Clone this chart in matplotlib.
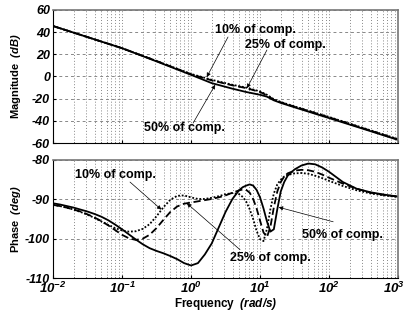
import numpy as np
import matplotlib
matplotlib.use("Agg")
import matplotlib.pyplot as plt
import matplotlib.transforms as mtransforms
from matplotlib.ticker import FixedLocator, FuncFormatter, LogLocator, NullFormatter

plt.rcParams['font.family'] = 'Liberation Sans'
plt.rcParams['font.weight'] = 'bold'
plt.rcParams['mathtext.fontset'] = 'custom'
plt.rcParams['mathtext.bfit'] = 'Liberation Sans:italic:bold'
plt.rcParams['mathtext.it'] = 'Liberation Sans:italic:bold'
plt.rcParams['mathtext.rm'] = 'Liberation Sans:bold'

# -------------------------------
# DATA
# -------------------------------

# magnitude, log10(frequency) grid
MAG_LOGW = [-2.0, -1.5, -1.0, -0.5, 0.0, 0.3, 0.6, 0.8, 1.0, 1.1, 1.2, 1.3, 1.5, 2.0, 2.5, 3.0]
MAG_10 = [45.5, 35.5, 25.5, 14.0, 2.3, -3.0, -7.5, -10.0, -13.5, -16.5, -20.5, -23.0, -27.0, -36.5, -46.5, -56.5]
MAG_25 = [45.5, 35.5, 25.5, 14.0, 2.0, -3.5, -8.0, -10.5, -14.0, -17.0, -21.0, -23.3, -27.2, -36.8, -46.8, -56.8]
MAG_50 = [45.5, 35.5, 25.5, 13.6, 1.5, -6.0, -11.0, -14.0, -16.5, -18.2, -21.5, -23.8, -27.8, -37.5, -47.3, -57.2]

# phase, log10(frequency) grid
PH_LOGW = [-2.0, -1.9, -1.8, -1.7, -1.6, -1.5, -1.4, -1.3, -1.2, -1.1, -1.0, -0.9, -0.8, -0.7,
           -0.6, -0.5, -0.4, -0.3, -0.2, -0.1, 0.0, 0.1, 0.2, 0.3, 0.4, 0.5, 0.6, 0.7,
           0.75, 0.8, 0.85, 0.9, 0.95, 1.0, 1.05, 1.1, 1.15, 1.2, 1.25, 1.3, 1.35, 1.4,
           1.5, 1.6, 1.7, 1.8, 1.9, 2.0, 2.2, 2.4, 2.6, 2.8, 3.0]
PH_50 = [-91.0, -91.3, -91.7, -92.1, -92.6, -93.1, -93.7, -94.4, -95.3, -96.4, -97.6, -98.9, -100.2, -101.4,
         -102.4, -103.1, -103.7, -104.4, -105.2, -106.2, -106.8, -106.2, -104.0, -101.2, -97.2, -93.2, -89.9, -87.6,
         -86.9, -86.5, -86.2, -86.5, -87.6, -89.5, -92.3, -95.6, -98.2, -97.6, -92.5, -88.0, -85.6, -84.0,
         -82.4, -81.4, -80.9, -81.1, -81.9, -83.0, -85.6, -87.3, -88.2, -88.8, -89.3]
PH_25 = [-91.4, -91.7, -92.1, -92.6, -93.1, -93.8, -94.6, -95.5, -96.6, -97.8, -99.0, -99.9, -100.3, -100.0,
         -99.0, -97.3, -95.2, -93.2, -91.8, -91.1, -90.8, -90.5, -90.2, -89.9, -89.5, -89.0, -88.3, -87.7,
         -87.5, -87.6, -88.3, -89.9, -92.3, -95.4, -98.4, -99.6, -97.0, -92.0, -88.0, -85.6, -84.2, -83.4,
         -82.7, -82.5, -82.6, -83.0, -83.7, -84.5, -86.0, -87.3, -88.3, -88.9, -89.3]
PH_10 = [-91.4, -91.7, -92.1, -92.6, -93.2, -93.9, -94.7, -95.6, -96.5, -97.3, -97.9, -98.2, -98.1, -97.5,
         -96.3, -94.3, -92.0, -90.1, -89.1, -89.0, -89.5, -89.9, -89.9, -89.6, -89.2, -88.7, -88.4, -88.7,
         -89.4, -90.6, -92.5, -95.0, -98.0, -100.1, -100.6, -97.5, -92.5, -88.5, -86.2, -85.0, -84.2, -83.8,
         -83.4, -83.3, -83.5, -84.0, -84.6, -85.3, -86.6, -87.7, -88.5, -89.0, -89.4]

MAG_TICKS = [-60, -40, -20, 0, 20, 40, 60]
PH_TICKS = [-110, -100, -90, -80]
FREQ_TICKS = [1e-2, 1e-1, 1e0, 1e1, 1e2, 1e3]
LABEL = "{}% of comp."

w_mag = 10.0 ** np.array(MAG_LOGW)
w_ph = 10.0 ** np.array(PH_LOGW)

# -------------------------------
# FIGURE
# -------------------------------

fig = plt.figure(figsize=(4.06, 3.2), dpi=100)
ax1 = fig.add_axes([0.1305, 0.553, 0.850, 0.416])
ax2 = fig.add_axes([0.1305, 0.131, 0.850, 0.369])

ax1.semilogx(w_mag, MAG_10, color='k', lw=1.3, ls=(0, (1, 1)))
ax1.semilogx(w_mag, MAG_25, color='k', lw=1.3, ls=(0, (4, 2)))
ax1.semilogx(w_mag, MAG_50, color='k', lw=1.3, ls='-')

ax2.semilogx(w_ph, PH_10, color='k', lw=1.3, ls=(0, (1, 1)))
ax2.semilogx(w_ph, PH_25, color='k', lw=1.3, ls=(0, (4, 2)))
ax2.semilogx(w_ph, PH_50, color='k', lw=1.3, ls='-')


def exp_fmt(v, pos):
    e = int(round(np.log10(v)))
    return r'$\mathbfit{10^{%d}}$' % e


for ax in (ax1, ax2):
    ax.set_xlim(1e-2, 1e3)
    ax.xaxis.set_major_locator(FixedLocator(FREQ_TICKS))
    ax.xaxis.set_minor_locator(LogLocator(base=10, subs=np.arange(2, 10), numticks=10))
    ax.xaxis.set_minor_formatter(NullFormatter())
    ax.grid(True, which='major', axis='x', color='#888888', ls=(0, (1, 2)), lw=0.7)
    ax.grid(True, which='minor', axis='x', color='#888888', ls=(0, (1, 2)), lw=0.7)
    ax.grid(True, which='major', axis='y', color='#888888', ls=(0, (3, 3)), lw=0.7)
    ax.tick_params(which='both', direction='in', length=2, pad=2)
    ax.tick_params(which='minor', length=1)
    for s in ('top', 'right'):
        ax.spines[s].set_color('#777777')
        ax.spines[s].set_linewidth(1.2)

ax1.set_ylim(-60, 60)
ax1.yaxis.set_major_locator(FixedLocator(MAG_TICKS))
ax1.xaxis.set_major_formatter(NullFormatter())
ax1.set_yticklabels([str(t) for t in MAG_TICKS], style='italic', weight='bold', fontsize=9)
ax1.set_ylabel(r'Magnitude  $\mathbfit{(dB)}$', fontsize=8, fontweight='bold')
ax1.yaxis.set_label_coords(-0.087, 0.5)

ax2.set_ylim(-110, -80)
ax2.yaxis.set_major_locator(FixedLocator(PH_TICKS))
ax2.set_yticklabels([str(t) for t in PH_TICKS], style='italic', weight='bold', fontsize=9)
ax2.xaxis.set_major_formatter(FuncFormatter(exp_fmt))
ax2.tick_params(axis='x', labelsize=9.5, pad=2)
ax2.set_ylabel(r'Phase  $\mathbfit{(deg)}$', fontsize=8, fontweight='bold')
ax2.yaxis.set_label_coords(-0.087, 0.5)
ax2.set_xlabel(r'Frequency  $\mathbfit{(rad/s)}$', fontsize=8.5, fontweight='bold', labelpad=0)

# keep the last decade label inside the canvas
last = ax2.get_xticklabels()[-1]
last.set_transform(last.get_transform() + mtransforms.ScaledTranslation(-4 / 100, 0, fig.dpi_scale_trans))

# -------------------------------
# ANNOTATIONS
# -------------------------------

arrow = dict(arrowstyle='-|>', color='k', lw=0.5, mutation_scale=6, shrinkA=0, shrinkB=0)
tkw = dict(fontsize=9, weight='bold', ha='center', va='center')

ax1.annotate('', xy=(10 ** 0.228, -0.5), xytext=(10 ** 0.536, 35.6), arrowprops=arrow)
ax1.text(10 ** 0.93, 42, LABEL.format(10), **tkw)
ax1.annotate('', xy=(10 ** 0.81, -10.5), xytext=(10 ** 1.10, 23.9), arrowprops=arrow)
ax1.text(10 ** 1.36, 28.4, LABEL.format(25), **tkw)
ax1.annotate('', xy=(10 ** 0.35, -7.5), xytext=(10 ** 0.03, -42), arrowprops=arrow)
ax1.text(10 ** -0.09, -46.5, LABEL.format(50), **tkw)

ax2.annotate('', xy=(10 ** -0.43, -92.6), xytext=(10 ** -0.884, -85.6), arrowprops=arrow)
ax2.text(10 ** -1.10, -83.8, LABEL.format(10), **tkw)
ax2.annotate('', xy=(10 ** -0.06, -91.0), xytext=(10 ** 0.71, -102.8), arrowprops=arrow)
ax2.text(10 ** 1.145, -104.8, LABEL.format(25), **tkw)
ax2.annotate('', xy=(10 ** 1.27, -92.0), xytext=(10 ** 2.06, -95.7), arrowprops=arrow)
ax2.text(10 ** 2.2, -99.0, LABEL.format(50), **tkw)

fig.text(0.554, 1.012, '(a)', fontsize=12, ha='center', va='baseline')

fig.savefig('out.png', dpi=100)
